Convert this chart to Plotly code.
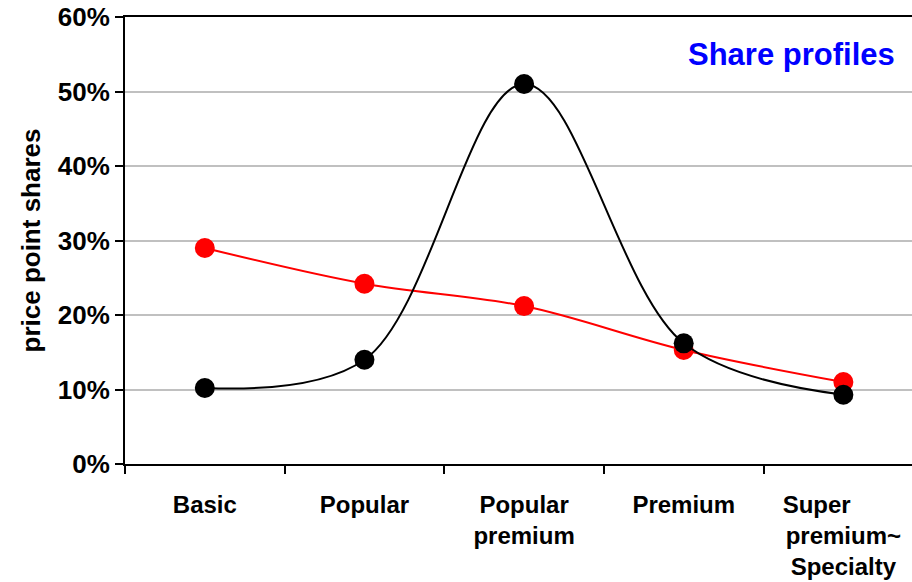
import plotly.graph_objects as go

categories = ["Basic", "Popular", "Popular premium", "Premium", "Super premium~ Specialty"]
tick_labels = ["Basic", "Popular", "Popular<br>premium", "Premium",
               "Super&nbsp;&nbsp;&nbsp;&nbsp;&nbsp;&nbsp;&nbsp;&nbsp;<br>premium~<br>Specialty"]
red_shares = [0.29, 0.242, 0.212, 0.153, 0.11]
black_shares = [0.102, 0.14, 0.51, 0.162, 0.093]
y_ticks = [0, 0.1, 0.2, 0.3, 0.4, 0.5, 0.6]

fig = go.Figure()
fig.add_trace(go.Scatter(
    x=categories, y=red_shares, mode="lines+markers",
    line=dict(color="#FF0000", width=2, shape="spline", smoothing=1),
    marker=dict(color="#FF0000", size=20),
    showlegend=False))
fig.add_trace(go.Scatter(
    x=categories, y=black_shares, mode="lines+markers",
    line=dict(color="#000000", width=2, shape="spline", smoothing=1),
    marker=dict(color="#000000", size=20),
    showlegend=False))

font_family = "Liberation Sans, Arial, sans-serif"

fig.update_layout(
    width=912, height=582,
    margin=dict(l=125, r=0, t=17, b=118),
    paper_bgcolor="white", plot_bgcolor="white",
    font=dict(family=font_family, color="black", size=24, weight="bold"),
    xaxis=dict(
        type="category",
        range=[-0.5, 4.43],
        tickmode="array", tickvals=categories, ticktext=tick_labels,
        tickson="boundaries",
        showgrid=False, zeroline=False,
        showline=True, linecolor="black", linewidth=2, mirror=True,
        ticks="outside", ticklen=8, tickwidth=2, tickcolor="black",
        tickfont=dict(size=24, family=font_family, weight="bold"),
        ticklabelstandoff=18,
        automargin=False,
    ),
    yaxis=dict(
        range=[0, 0.6],
        tickmode="array", tickvals=y_ticks,
        tickformat=".0%",
        showgrid=True, gridcolor="#C0C0C0", gridwidth=2,
        zeroline=False,
        showline=True, linecolor="black", linewidth=2,
        ticks="outside", ticklen=8, tickwidth=2, tickcolor="black",
        tickfont=dict(size=26, family=font_family, weight="bold"),
        title=dict(text="price point shares", standoff=10,
                   font=dict(size=26, family=font_family, weight="bold")),
        automargin=False,
    ),
    annotations=[dict(
        text="Share profiles", xref="paper", yref="paper",
        x=0.981, y=1 - (54 - 17) / 447,
        xanchor="right", yanchor="middle", showarrow=False,
        font=dict(size=31, color="#0000FF", family=font_family, weight="bold"))],
)

fig.write_html("out.html",
               config={"displayModeBar": False},
               post_script="document.body.style.margin='0';document.body.style.overflow='hidden';")
